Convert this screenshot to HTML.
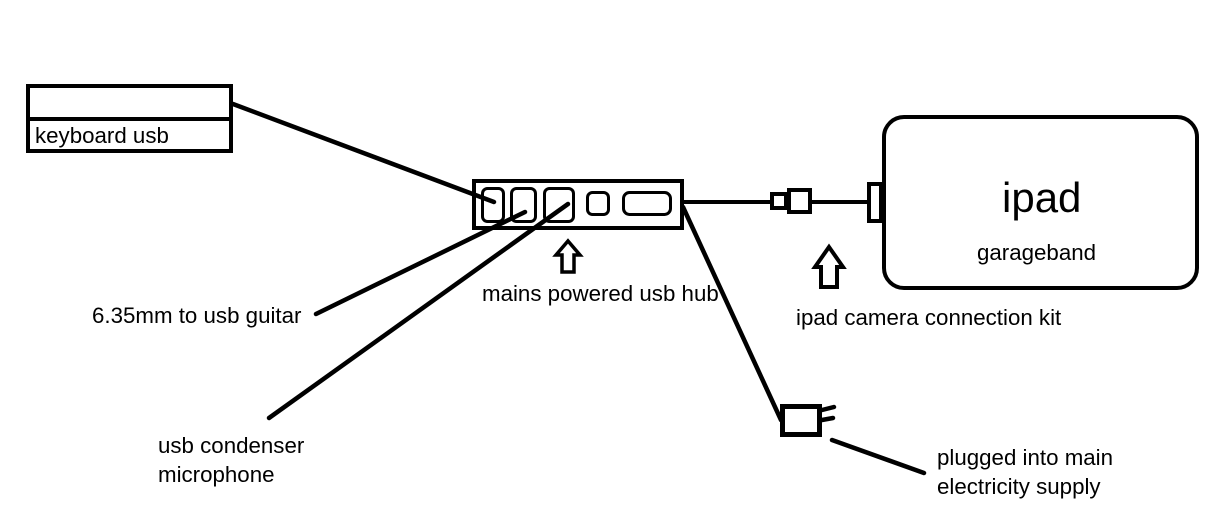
<!DOCTYPE html>
<html>
<head>
<meta charset="utf-8">
<style>
html,body{margin:0;padding:0;background:#fff;}
svg{display:block;}
text{font-family:"Liberation Sans",sans-serif;fill:#000;}
</style>
</head>
<body>
<svg width="1223" height="512" viewBox="0 0 1223 512" xmlns="http://www.w3.org/2000/svg">
<rect x="0" y="0" width="1223" height="512" fill="#fff"/>
<g fill="none" stroke="#000" stroke-width="4">
  <!-- keyboard -->
  <rect x="28" y="86" width="203" height="65"/>
  <line x1="28" y1="119" x2="231" y2="119"/>
  <!-- hub -->
  <rect x="474" y="181" width="208" height="47"/>
  <!-- ipad -->
  <rect x="884" y="117" width="313" height="171" rx="20" ry="20"/>
  <rect x="869" y="184" width="12" height="37"/>
  <!-- usb connector -->
  <rect x="772" y="194" width="14" height="14"/>
  <rect x="789" y="190" width="21" height="22"/>
  <line x1="684" y1="202" x2="772" y2="202"/>
  <line x1="810" y1="202" x2="869" y2="202"/>
</g>
<g fill="none" stroke="#000" stroke-width="3">
  <rect x="482.5" y="188.5" width="21" height="33" rx="5"/>
  <rect x="511.5" y="188.5" width="24" height="33" rx="5"/>
  <rect x="544.5" y="188.5" width="29" height="33" rx="5"/>
  <rect x="587.5" y="192.5" width="21" height="22" rx="5"/>
  <rect x="623.5" y="192.5" width="47" height="22" rx="6"/>
</g>
<g stroke="#000" stroke-width="4.5" stroke-linecap="round" fill="none">
  <line x1="233" y1="104" x2="494" y2="202"/>
  <line x1="316" y1="314" x2="525" y2="212"/>
  <line x1="269" y1="418" x2="568" y2="204"/>
  <line x1="683" y1="207" x2="781" y2="420"/>
  <line x1="832" y1="440" x2="924" y2="473"/>
  <line x1="822" y1="410" x2="834" y2="407"/>
  <line x1="822" y1="420" x2="833" y2="418"/>
</g>
<!-- plug -->
<rect x="782.5" y="406.5" width="37" height="28" fill="none" stroke="#000" stroke-width="5"/>
<!-- arrows -->
<polygon points="568,241 580,255 574,255 574,272 562,272 562,255 556,255" fill="none" stroke="#000" stroke-width="3.5" stroke-linejoin="miter"/>
<polygon points="829,247 843,267 837,267 837,287 821,287 821,267 815,267" fill="none" stroke="#000" stroke-width="4" stroke-linejoin="miter"/>
<!-- text -->
<g font-size="22.3">
  <text x="35" y="143">keyboard usb</text>
  <text x="92" y="323">6.35mm to usb guitar</text>
  <text x="482" y="301">mains powered usb hub</text>
  <text x="796" y="325">ipad camera connection kit</text>
  <text x="158" y="453">usb condenser</text>
  <text x="158" y="482">microphone</text>
  <text x="937" y="465">plugged into main</text>
  <text x="937" y="494">electricity supply</text>
  <text x="977" y="260">garageband</text>
</g>
<text x="1002" y="212" font-size="42">ipad</text>
</svg>
</body>
</html>
